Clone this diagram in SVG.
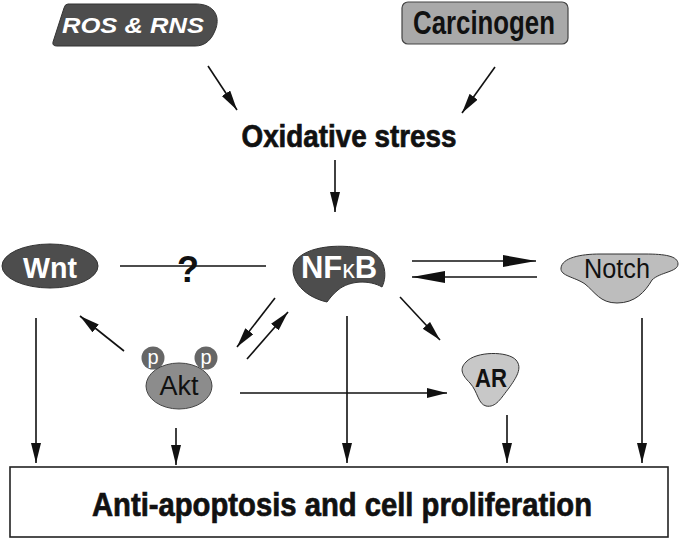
<svg xmlns="http://www.w3.org/2000/svg" width="680" height="540" viewBox="0 0 680 540">
<style>
.b{font-family:"Liberation Sans",Arial,sans-serif;font-weight:bold}
.n{font-family:"Liberation Sans",Arial,sans-serif}
.hv{stroke:#111;stroke-width:0.7}
.ln{stroke:#111;stroke-width:1.6;fill:none}
.dark{fill:#4d4d4d;stroke:#333;stroke-width:1}
</style>
<defs>
<marker id="ah" markerUnits="userSpaceOnUse" markerWidth="21" markerHeight="11" refX="20" refY="5" orient="auto">
<path d="M0,0 L20,5 L0,10 Z" fill="#111"/>
</marker>
<marker id="ahb" markerUnits="userSpaceOnUse" markerWidth="34" markerHeight="13" refX="33" refY="6" orient="auto">
<path d="M0,0 L33,6 L0,12 Z" fill="#111"/>
</marker>
</defs>
<rect width="680" height="540" fill="#fff"/>
<g id="ros">
<path class="dark" d="M68,4 L196,4 C214,4 220,16 216,28 C212,40 205,46 195,46 L57,46 Q52,46 53,42 L64,8 Q65,4 68,4 Z"/>
<text class="b" x="133" y="33" font-size="22" font-style="italic" fill="#fff" text-anchor="middle" textLength="142" lengthAdjust="spacingAndGlyphs">ROS &amp; RNS</text>
</g>
<g id="carcinogen">
<rect x="402" y="2" width="166" height="42" rx="6" fill="#a9a9a9" stroke="#444" stroke-width="1.2"/>
<text class="b" x="484" y="34" font-size="34" fill="#111" text-anchor="middle" textLength="142" lengthAdjust="spacingAndGlyphs">Carcinogen</text>
</g>
<g id="oxidative">
<text class="b hv" x="349" y="147" font-size="31" fill="#111" text-anchor="middle" textLength="215" lengthAdjust="spacingAndGlyphs">Oxidative stress</text>
</g>
<g id="nfkb">
<path class="dark" d="M327,302 C300,296 288,275 295,262 C305,245 345,243 368,250 C385,256 388,275 382,287 C370,280 350,280 338,290 C333,294 330,298 327,302 Z"/>
<text class="b" x="339" y="278" font-size="31" fill="#fff" text-anchor="middle">NF<tspan font-size="25" font-weight="normal">κ</tspan>B</text>
</g>
<g id="wnt">
<ellipse cx="50" cy="266" rx="48" ry="22" class="dark"/>
<text class="b" x="50" y="278" font-size="29" fill="#fff" text-anchor="middle" textLength="54" lengthAdjust="spacingAndGlyphs">Wnt</text>
</g>
<g id="notch">
<path d="M561,268 C562,258 580,254 600,254 L645,254 C665,254 678,256 678,264 C678,272 660,272 652,280 C645,292 635,303 617,303 C600,303 595,292 585,284 C575,277 560,276 561,268 Z" fill="#bdbdbd" stroke="#333" stroke-width="1"/>
<text class="n" x="617" y="278" font-size="27" fill="#111" text-anchor="middle" textLength="66" lengthAdjust="spacingAndGlyphs">Notch</text>
</g>
<g id="akt">
<circle cx="153" cy="358" r="11.5" fill="#666"/>
<circle cx="206" cy="358" r="11.5" fill="#666"/>
<text class="n" x="153" y="364" font-size="20" fill="#fff" text-anchor="middle">p</text>
<text class="n" x="206" y="364" font-size="20" fill="#fff" text-anchor="middle">p</text>
<ellipse cx="179" cy="386" rx="33" ry="23" fill="#8c8c8c" stroke="#444" stroke-width="1"/>
<text class="n" x="179" y="395" font-size="27" fill="#111" text-anchor="middle">Akt</text>
</g>
<g id="ar">
<path d="M466,362 C476,351 508,351 516,360 C523,368 516,378 509,388 C501,398 496,408 486,406 C478,404 478,392 470,383 C462,375 459,369 466,362 Z" fill="#c8c8c8" stroke="#333" stroke-width="1"/>
<text class="b" x="491" y="387" font-size="26" fill="#111" text-anchor="middle" textLength="32" lengthAdjust="spacingAndGlyphs">AR</text>
</g>
<g id="outcome">
<rect x="10" y="467" width="658" height="70" fill="#fff" stroke="#222" stroke-width="1.6"/>
<text class="b hv" x="342" y="516" font-size="33" fill="#111" text-anchor="middle" textLength="500" lengthAdjust="spacingAndGlyphs">Anti-apoptosis and cell proliferation</text>
</g>
<g id="connectors">
<line class="ln" x1="208" y1="66" x2="237" y2="110" marker-end="url(#ah)"/>
<line class="ln" x1="495" y1="67" x2="462" y2="113" marker-end="url(#ah)"/>
<line class="ln" x1="335" y1="160" x2="335" y2="212" marker-end="url(#ah)"/>
<line class="ln" x1="120" y1="266" x2="266" y2="266"/>
<text class="b" x="188" y="282" font-size="36" fill="#111" text-anchor="middle">?</text>
<line class="ln" x1="412" y1="261" x2="536" y2="261" marker-end="url(#ahb)"/>
<line class="ln" x1="537" y1="277" x2="412" y2="277" marker-end="url(#ahb)"/>
<line class="ln" x1="124" y1="351" x2="80" y2="316" marker-end="url(#ah)"/>
<line class="ln" x1="275" y1="298" x2="237" y2="347" marker-end="url(#ah)"/>
<line class="ln" x1="247" y1="359" x2="288" y2="312" marker-end="url(#ah)"/>
<line class="ln" x1="400" y1="297" x2="440" y2="340" marker-end="url(#ah)"/>
<line class="ln" x1="240" y1="393" x2="447" y2="393" marker-end="url(#ah)"/>
<line class="ln" x1="36" y1="318" x2="36" y2="463" marker-end="url(#ah)"/>
<line class="ln" x1="176" y1="428" x2="176" y2="465" marker-end="url(#ah)"/>
<line class="ln" x1="347" y1="316" x2="347" y2="463" marker-end="url(#ah)"/>
<line class="ln" x1="507" y1="415" x2="507" y2="463" marker-end="url(#ah)"/>
<line class="ln" x1="642" y1="318" x2="642" y2="463" marker-end="url(#ah)"/>
</g>
</svg>
